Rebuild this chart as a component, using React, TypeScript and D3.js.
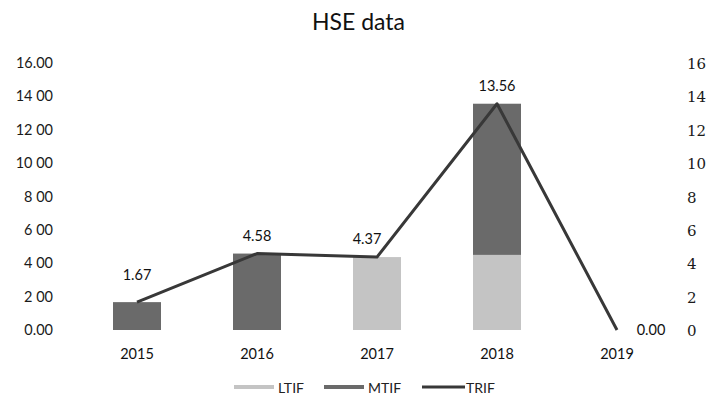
import * as d3 from 'd3';
import React from 'react';

const years = ['2015', '2016', '2017', '2018', '2019'];
const ltif = [0, 0, 4.37, 4.5, 0];
const mtif = [1.67, 4.58, 0, 9.06, 0];
const trif = [1.67, 4.58, 4.37, 13.56, 0.0];
const leftTicks = [0, 2, 4, 6, 8, 10, 12, 14, 16];
const leftTickLabels = ['0.00', '2 00', '4 00', '6 00', '8 00', '10 00', '12 00', '14 00', '16.00'];
const labelPlacement = ['above', 'above', 'above', 'above', 'right'];

const W = 717;
const H = 400;
const LIGHT = '#c4c4c4';
const DARK = '#6a6a6a';
const LINE = '#383838';
const font = 'Lato, "Open Sans", sans-serif';

function App() {
    const margin = { top: 63, right: 40, bottom: 70, left: 77 };
    const x = d3.scaleBand()
        .domain(years)
        .range([margin.left, W - margin.right])
        .paddingInner(0.6)
        .paddingOuter(0.3);
    const y = d3.scaleLinear().domain([0, 16]).range([330, 63]);

    const cx = (i: number) => x(years[i])! + x.bandwidth() / 2;

    const line = d3.line<number>()
        .x((_, i) => cx(i))
        .y(d => y(d));

    return (
        <svg width={W} height={H} style={{ position: 'absolute', left: 0, top: 0, background: '#fff' }}>
            <text x={W / 2} y={30} textAnchor="middle" fontFamily={font} fontSize={23} fill="#111">HSE data</text>

            {/* left axis */}
            {leftTicks.map((t, i) => (
                <text key={t} x={53} y={y(t) + 5} textAnchor="end" fontFamily={font} fontSize={14.5} fill="#1a1a1a">
                    {leftTickLabels[i]}
                </text>
            ))}
            {/* right axis */}
            {leftTicks.map(t => (
                <text key={t} x={687} y={y(t) + 6} textAnchor="start" fontFamily='"DejaVu Serif", serif' fontSize={15} fill="#1a1a1a">
                    {t}
                </text>
            ))}

            {/* bars */}
            {years.map((yr, i) => (
                <g key={yr}>
                    {ltif[i] > 0 && (
                        <rect x={x(yr)} y={y(ltif[i])} width={x.bandwidth()} height={y(0) - y(ltif[i])} fill={LIGHT} />
                    )}
                    {mtif[i] > 0 && (
                        <rect x={x(yr)} y={y(ltif[i] + mtif[i])} width={x.bandwidth()} height={y(0) - y(mtif[i])} fill={DARK} />
                    )}
                </g>
            ))}

            <path d={line(trif)!} fill="none" stroke={LINE} strokeWidth={3} strokeLinejoin="round" />

            {/* data labels */}
            {trif.map((v, i) => {
                const right = labelPlacement[i] === 'right';
                const off = i === 0 ? 22 : 13;
                return (
                    <text key={i}
                        x={right ? cx(i) + 34 : cx(i) - (i === 2 ? 10 : 0)}
                        y={right ? y(v) + 5 : y(v) - off}
                        textAnchor="middle" fontFamily={font} fontSize={14.5} fill="#111">
                        {v.toFixed(2)}
                    </text>
                );
            })}

            {/* category labels */}
            {years.map((yr, i) => (
                <text key={yr} x={cx(i)} y={359} textAnchor="middle" fontFamily={font} fontSize={14.5} fill="#111">
                    {yr}
                </text>
            ))}

            {/* legend */}
            <rect x={234} y={385} width={40} height={4} fill={LIGHT} />
            <text x={278} y={393} fontFamily={font} fontSize={14} fill="#222">LTIF</text>
            <rect x={324} y={385} width={40} height={4} fill={DARK} />
            <text x={368} y={393} fontFamily={font} fontSize={14} fill="#222">MTIF</text>
            <line x1={422} x2={465} y1={387} y2={387} stroke={LINE} strokeWidth={3} />
            <text x={466} y={393} fontFamily={font} fontSize={14} fill="#222">TRIF</text>
        </svg>
    );
}

export default App;
